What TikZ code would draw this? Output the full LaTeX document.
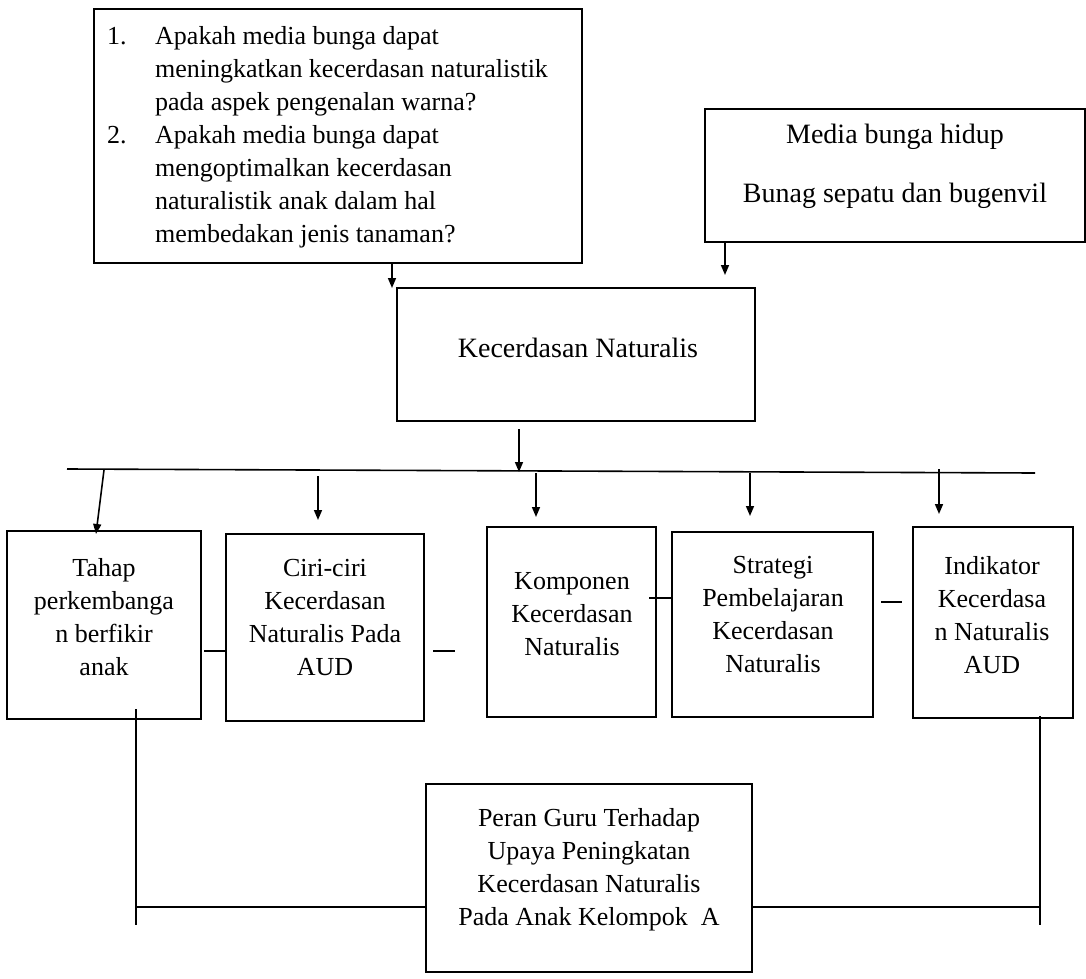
\documentclass[tikz,border=0pt]{standalone}
\usepackage{fontspec}
\setmainfont{Liberation Serif}
\usetikzlibrary{arrows.meta}
\begin{document}
\begin{tikzpicture}[x=1pt,y=-1pt,
  box/.style={draw, line width=2pt, inner sep=0pt, outer sep=0pt},
  txt/.style={align=center, inner sep=0pt, font=\fontsize{26}{33}\selectfont},
  arr/.style={line width=1.6pt, -{Triangle[length=10pt,width=8pt]}},
  ln/.style={line width=1.6pt},
  thin/.style={line width=1.2pt}]
\useasboundingbox (0,0) rectangle (1086,979);
% boxes
\node[box, minimum width=488pt, minimum height=254pt] (q) at (338,136) {};
\node[box, minimum width=380pt, minimum height=133pt] (media) at (895,175.5) {};
\node[box, minimum width=358pt, minimum height=133pt] (kec) at (576,354.5) {};
\node[box, minimum width=194pt, minimum height=188pt] (tahap) at (104,625) {};
\node[box, minimum width=198pt, minimum height=187pt] (ciri) at (325,627.5) {};
\node[box, minimum width=169pt, minimum height=190pt] (komp) at (571.5,622) {};
\node[box, minimum width=201pt, minimum height=185pt] (strat) at (772.5,624.5) {};
\node[box, minimum width=160pt, minimum height=191pt] (indik) at (993,622.5) {};
\node[box, minimum width=326pt, minimum height=188pt] (peran) at (589,878) {};
% texts
\node[inner sep=0pt, anchor=base west, font=\fontsize{26}{33}\selectfont] (qT) at (107,45)
  {\begin{tabular}[t]{@{}p{48pt}@{}l@{}}
  1. & Apakah media bunga dapat\\
     & meningkatkan kecerdasan naturalistik\\
     & pada aspek pengenalan warna?\\
  2. & Apakah media bunga dapat\\
     & mengoptimalkan kecerdasan\\
     & naturalistik anak dalam hal\\
     & membedakan jenis tanaman?
  \end{tabular}};
\node[txt, font=\fontsize{28}{59}\selectfont] (mediaT) at (895,166) {Media bunga hidup\\Bunag sepatu dan bugenvil};
\node[txt, font=\fontsize{28}{33}\selectfont] (kecT) at (578,347.5) {Kecerdasan Naturalis};
\node[txt] (tahapT) at (104,617) {Tahap\\perkembanga\\n berfikir\\anak};
\node[txt] (ciriT) at (325,618) {Ciri-ciri\\Kecerdasan\\Naturalis Pada\\AUD};
\node[txt] (kompT) at (572,614) {Komponen\\Kecerdasan\\Naturalis};
\node[txt] (stratT) at (773,615) {Strategi\\Pembelajaran\\Kecerdasan\\Naturalis};
\node[txt] (indikT) at (992,615) {Indikator\\Kecerdasa\\n Naturalis\\AUD};
\node[txt] (peranT) at (589,870) {Peran Guru Terhadap\\Upaya Peningkatan\\Kecerdasan Naturalis\\Pada Anak Kelompok~~A};
% connectors top
\coordinate (qa) at (392,288);
\draw[arr] (q.south -| qa) -- (qa);
\coordinate (ma) at (725,275);
\draw[arr] (media.south -| ma) -- (ma);
\coordinate (ka1) at (519,429);
\coordinate (ka2) at (519,472);
\draw[arr] (ka1) -- (ka2);
\coordinate (busL) at (67,469);
\coordinate (busR) at (1035,473);
\draw[ln] (busL) -- (busR);
% arrows to second row
\coordinate (t0) at (104,470); \coordinate (t1) at (96,534);
\draw[arr] (t0) -- (t1);
\coordinate (c0) at (318,476); \coordinate (c1) at (318,520);
\draw[arr] (c0) -- (c1);
\coordinate (k0) at (536,473); \coordinate (k1) at (536,517);
\draw[arr] (k0) -- (k1);
\coordinate (s0) at (750,473); \coordinate (s1) at (750,516);
\draw[arr] (s0) -- (s1);
\coordinate (i0) at (939,469); \coordinate (i1) at (939,514);
\draw[arr] (i0) -- (i1);
% horizontal links in second row
\coordinate (tc) at (204,651);
\draw[thin] (tc) -- (tc -| ciri.west);
\coordinate (d1a) at (433,651); \coordinate (d1b) at (455,651);
\draw[ln] (d1a) -- (d1b);
\coordinate (ks) at (649,598);
\draw[ln] (ks) -- (ks -| strat.west);
\coordinate (d2a) at (881,602); \coordinate (d2b) at (902,602);
\draw[ln] (d2a) -- (d2b);
% bottom connectors
\coordinate (bl1) at (136,709); \coordinate (bl2) at (136,925);
\coordinate (br1) at (1040,716); \coordinate (br2) at (1040,925);
\draw[thin] (bl1) -- (bl2);
\draw[thin] (br1) -- (br2);
\coordinate (bj) at (136,907);
\draw[thin] (bj) -- (bj -| peran.west);
\draw[thin] (peran.east |- bj) -- (bj -| br1);
\end{tikzpicture}
\end{document}
